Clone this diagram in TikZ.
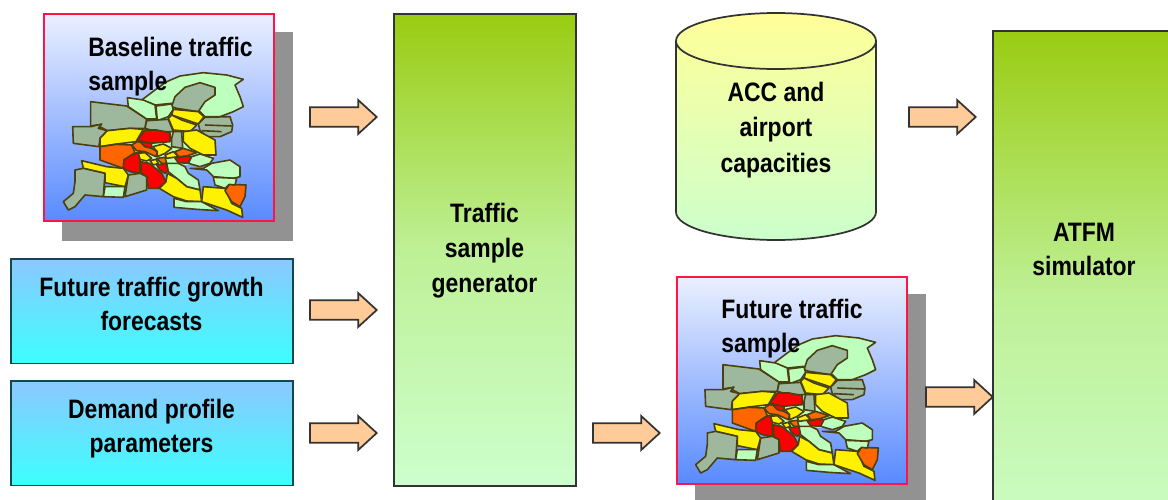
\documentclass[tikz,border=0pt]{standalone}
\usepackage{fontspec}
\setmainfont[FakeStretch=0.86]{Liberation Sans}
\usetikzlibrary{shapes.arrows}
\definecolor{lgreen}{HTML}{BDFFBD}
\definecolor{ggreen}{HTML}{9EB89E}
\definecolor{myorange}{HTML}{FF6600}
\definecolor{mapline}{HTML}{4A4010}
\definecolor{shadowgray}{HTML}{929292}
\definecolor{arrowfill}{HTML}{FFCC99}
\definecolor{boxline}{HTML}{333333}
\tikzset{
  lbl/.style={font=\bfseries\fontsize{20}{25.5}\selectfont,align=center,text=black,inner sep=0pt},
  lblw/.style={font=\bfseries\fontsize{20}{26.4}\selectfont,align=center,text=black,inner sep=0pt},
  lbll/.style={lbl,align=left},
  shadowbox/.style={fill=shadowgray,draw=none,anchor=north west,inner sep=0pt,minimum width=173.25pt,minimum height=156.75pt},
  mapbox/.style={draw={rgb,255:red,255;green,20;blue,70},line width=1.2pt,top color={rgb,255:red,235;green,240;blue,255},bottom color={rgb,255:red,88;green,138;blue,255},anchor=north west,inner sep=0pt,minimum width=172.5pt,minimum height=155.25pt},
  infobox/.style={draw={rgb,255:red,20;green,70;blue,80},line width=1.35pt,top color={rgb,255:red,140;green,200;blue,255},bottom color={rgb,255:red,60;green,255;blue,255},anchor=north west,inner sep=0pt,minimum width=211.5pt,minimum height=78.5pt},
  genbox/.style={draw=boxline,line width=1.35pt,top color={rgb,255:red,153;green,204;blue,17},bottom color={rgb,255:red,204;green,255;blue,204},middle color={rgb,255:red,190;green,240;blue,150},anchor=north west,inner sep=0pt},
  flowarrow/.style={single arrow,draw=boxline,fill=arrowfill,line width=1.3pt,minimum width=25.5pt,minimum height=50pt,single arrow head extend=5.5pt,single arrow tip angle=85,inner xsep=0pt,inner ysep=6.6pt,anchor=tip},
  ml/.style={draw=mapline,line width=1.2pt,line join=round},
  pics/euromap/.style={code={
    \begin{scope}[x=.25pt,y=-.25pt]
    \fill[lgreen] (210,440)--(300,385)--(430,395)--(555,420)--(558,465)--(520,490)--(475,495)--(410,490)--(335,520)--(280,505)--cycle;
    \filldraw[ml,fill=lgreen] (335,300)--(375,270)--(410,245)--(450,228)--(520,218)--(590,225)--(640,238)--(615,255)--(630,290)--(640,320)--(610,335)--(570,350)--(525,350)--(510,335)--(440,325)--(425,310)--(375,315)--cycle;
    \filldraw[ml,fill=ggreen] (425,320)--(435,290)--(465,262)--(510,248)--(555,262)--(555,285)--(525,305)--(505,335)--(440,325)--cycle;
    \filldraw[ml,fill=ggreen] (182,305)--(290,318)--(350,357)--(345,385)--(300,385)--(232,392)--(200,375)--(182,378)--cycle;
    \filldraw[ml,fill=ggreen] (128,380)--(183,380)--(215,372)--(205,385)--(232,392)--(210,415)--(207,440)--(130,430)--cycle;
    \filldraw[ml,fill=lgreen] (292,293)--(340,300)--(375,315)--(380,357)--(350,357)--(295,320)--cycle;
    \filldraw[ml,fill=lgreen] (378,318)--(425,312)--(430,328)--(415,350)--(382,362)--cycle;
    \filldraw[ml,fill=ggreen] (350,362)--(415,358)--(430,395)--(380,395)--(345,385)--cycle;
    \filldraw[ml,fill=yellow] (430,328)--(505,335)--(522,350)--(505,372)--(455,355)--(425,345)--cycle;
    \filldraw[ml,fill=yellow] (425,345)--(455,360)--(500,375)--(480,395)--(430,390)--(415,355)--cycle;
    \filldraw[ml,fill=ggreen] (505,372)--(525,352)--(600,350)--(608,375)--(605,395)--(570,410)--(530,410)--(510,392)--cycle;
    \draw[ml] (525,375)--(605,378) (515,392)--(575,395);
    \filldraw[ml,fill=yellow] (460,395)--(500,390)--(555,420)--(558,465)--(520,465)--(480,445)--(460,425)--cycle;
    \filldraw[ml,fill=ggreen] (430,395)--(455,395)--(458,445)--(425,440)--(425,415)--cycle;
    \filldraw[ml,fill=red] (345,390)--(380,390)--(420,398)--(420,425)--(360,430)--(322,420)--cycle;
    \filldraw[ml,fill=yellow] (232,392)--(300,385)--(340,388)--(318,425)--(260,432)--(210,440)--(210,415)--cycle;
    \filldraw[ml,fill=myorange] (210,440)--(260,433)--(305,435)--(315,458)--(282,480)--(280,505)--(210,480)--cycle;
    \filldraw[ml,fill=myorange] (305,435)--(322,425)--(355,430)--(365,445)--(382,455)--(378,470)--(345,455)--(320,452)--cycle;
    \filldraw[ml,fill=red] (330,425)--(365,430)--(365,445)--(345,440)--cycle;
    \filldraw[ml,fill=yellow] (368,440)--(400,432)--(425,445)--(405,460)--(382,470)--(382,455)--cycle;
    \filldraw[ml,fill=myorange] (435,455)--(460,445)--(500,458)--(470,468)--(445,470)--cycle;
    \filldraw[ml,fill=yellow] (405,465)--(430,455)--(445,470)--(410,475)--cycle;
    \filldraw[ml,fill=red] (435,475)--(470,468)--(485,470)--(475,490)--(445,488)--cycle;
    \filldraw[ml,fill=red] (282,480)--(310,462)--(330,455)--(330,485)--(330,520)--(300,515)--(280,505)--cycle;
    \filldraw[ml,fill=yellow] (325,460)--(345,458)--(365,475)--(350,483)--(330,478)--cycle;
    \filldraw[ml,fill=yellow] (360,482)--(378,478)--(385,490)--(370,495)--cycle;
    \filldraw[ml,fill=myorange] (380,475)--(405,472)--(410,490)--(395,490)--cycle;
    \filldraw[ml,fill=red] (332,485)--(358,490)--(395,520)--(408,545)--(385,565)--(355,565)--(350,530)--(335,520)--cycle;
    \filldraw[ml,fill=red] (380,495)--(408,490)--(418,510)--(405,520)--(390,510)--cycle;
    \filldraw[ml,fill=yellow] (155,482)--(230,500)--(280,505)--(295,525)--(285,560)--(225,548)--(225,520)--(160,505)--cycle;
    \filldraw[ml,fill=ggreen] (135,510)--(160,505)--(225,520)--(220,590)--(165,585)--(135,620)--(115,630)--(100,605)--(130,580)--(135,545)--cycle;
    \filldraw[ml,fill=lgreen] (225,560)--(285,560)--(280,592)--(220,590)--cycle;
    \filldraw[ml,fill=ggreen] (295,525)--(330,520)--(350,530)--(350,570)--(285,590)--cycle;
    \filldraw[ml,fill=lgreen] (410,490)--(445,490)--(465,500)--(475,520)--(505,540)--(510,570)--(470,560)--(440,535)--(415,515)--cycle;
    \filldraw[ml,fill=yellow] (412,520)--(440,535)--(470,560)--(510,570)--(515,605)--(470,603)--(430,590)--(388,565)--(408,545)--cycle;
    \filldraw[ml,fill=lgreen] (432,595)--(470,605)--(515,605)--(565,632)--(500,628)--(432,622)--cycle;
    \filldraw[ml,fill=yellow] (520,560)--(585,565)--(605,610)--(635,625)--(638,652)--(590,630)--(515,605)--cycle;
    \filldraw[ml,fill=myorange] (585,572)--(598,553)--(648,555)--(645,590)--(630,620)--(605,605)--cycle;
    \filldraw[ml,fill=lgreen] (480,505)--(520,505)--(545,490)--(600,480)--(630,500)--(630,530)--(610,535)--(550,530)--(530,510)--cycle;
    \filldraw[ml,fill=lgreen] (550,532)--(620,535)--(615,555)--(598,553)--(585,565)--(555,555)--cycle;
    \filldraw[ml,fill=lgreen] (485,470)--(510,462)--(550,475)--(540,490)--(510,500)--(475,490)--cycle;
    \end{scope}
  }}
}
\begin{document}
\begin{tikzpicture}[x=.75pt,y=-.75pt]
\useasboundingbox (0,0) rectangle (1168,500);
\clip (0,0) rectangle (1168,500);
% baseline sample
\node[shadowbox] (shadowA) at (62,32) {};
\node[mapbox] (boxA) at (43,13) {};
\pic at (30,0) {euromap};
\node[lbll,anchor=north west] (txtA) at (88,37) {Baseline traffic\\sample};
% input boxes
\node[infobox] (boxB) at (10,258) {};
\node[lbl] (txtB) at (151.5,304) {Future traffic growth\\forecasts};
\node[infobox] (boxC) at (10,380) {};
\node[lbl] (txtC) at (151.5,429) {Demand profile\\parameters};
% generator
\node[genbox,minimum width=136.5pt,minimum height=354pt] (gen) at (393,13) {};
\node[lblw] (txtG) at (484.5,250.5) {Traffic\\sample\\generator};
% cylinder
\shade[draw=boxline,line width=1.3pt,top color={rgb,255:red,255;green,255;blue,153},bottom color={rgb,255:red,204;green,255;blue,204}] (676,41) -- (676,212) arc[start angle=180,end angle=360,x radius=100,y radius=-28] -- (876,41) arc[start angle=0,end angle=180,x radius=100,y radius=-28] -- cycle;
\draw[line width=1.3pt,draw=boxline] (676,41) arc[start angle=180,end angle=360,x radius=100,y radius=-28];
\node[lblw] (txtD) at (776,130) {ACC and\\airport\\capacities};
% future sample
\node[shadowbox,minimum height=160pt] (shadowE) at (695,294) {};
\node[mapbox] (boxE) at (676,276) {};
\pic at (662.3,263) {euromap};
\node[lbll,anchor=north west] (txtE) at (721,299) {Future traffic\\sample};
% simulator
\node[genbox,minimum width=150pt,minimum height=400pt] (sim) at (992,30) {};
\node[lbl] (txtS) at (1084,249) {ATFM\\simulator};
% arrows
\node[flowarrow] (a1) at (378,117) {};
\node[flowarrow] (a2) at (378,310) {};
\node[flowarrow] (a3) at (378,433) {};
\node[flowarrow] (a4) at (661,433) {};
\node[flowarrow] (a5) at (977,117) {};
\node[flowarrow] (a6) at (994,397) {};
\end{tikzpicture}
\end{document}
